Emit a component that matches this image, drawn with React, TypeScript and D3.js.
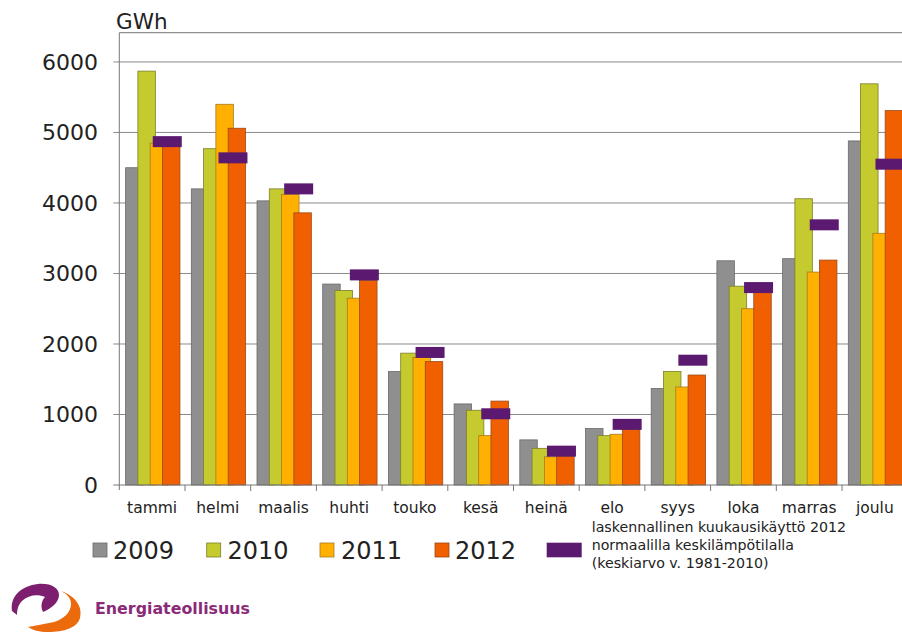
import React from "react";
import * as d3 from "d3";

// Monthly electricity consumption (GWh)
const months = ["tammi", "helmi", "maalis", "huhti", "touko", "kesä", "heinä", "elo", "syys", "loka", "marras", "joulu"];
const years = ["2009", "2010", "2011", "2012"];
const v2009 = [4500, 4200, 4030, 2850, 1610, 1150, 640, 800, 1370, 3180, 3210, 4880];
const v2010 = [5870, 4770, 4200, 2760, 1870, 1060, 520, 700, 1610, 2820, 4060, 5690];
const v2011 = [4850, 5400, 4120, 2650, 1810, 700, 400, 720, 1390, 2500, 3020, 3570];
const v2012 = [4820, 5060, 3860, 2900, 1750, 1190, 410, 790, 1560, 2740, 3190, 5310];
// Computed 2012 monthly use at normal average temperature (1981-2010)
const normal2012 = [4870, 4640, 4200, 2980, 1880, 1010, 480, 860, 1770, 2800, 3690, 4550];
const yTicks = [0, 1000, 2000, 3000, 4000, 5000, 6000];
const normalLegend = ["laskennallinen kuukausikäyttö 2012", "normaalilla keskilämpötilalla", "(keskiarvo v. 1981-2010)"];

const seriesValues = [v2009, v2010, v2011, v2012];
const colors = ["#8f8f8f", "#c5cb2e", "#ffb000", "#f06000"];
const strokes = ["#6a6a6a", "#7d7f2a", "#a77a20", "#9a4a1a"];
const purple = "#5b1a70";
const font = "DejaVu Sans, Verdana, sans-serif";

export default function App() {
  const W = 902;
  const H = 632;
  const left = 119.3;
  const bottom = 485;

  const x = d3.scaleBand<string>().domain(months).range([left, left + 12 * 65.7]).padding(0);
  const bw = x.bandwidth();
  const y = d3.scaleLinear().domain([0, 6415]).range([bottom, 32.7]);

  const barW = bw * 0.266;
  const barOff = (i: number) => bw * 0.096 + i * bw * 0.187;

  const legendItems = [
    { x: 93, tx: 113 },
    { x: 206.7, tx: 227.5 },
    { x: 320, tx: 341 },
    { x: 435, tx: 455 },
  ];

  return (
    <div style={{ position: "absolute", left: 0, top: 0 }}>
      <svg width={W} height={H} style={{ display: "block", background: "#fff" }}>
        {/* grid */}
        {yTicks.slice(1).map((t) => (
          <line key={t} x1={left - 6} x2={W} y1={y(t)} y2={y(t)} stroke="#8a8a8a" strokeWidth={1} />
        ))}
        <line x1={left} x2={W} y1={y.range()[1]} y2={y.range()[1]} stroke="#777" strokeWidth={1} />

        {/* bars */}
        {months.map((m, mi) =>
          seriesValues.map((vals, si) => (
            <rect
              key={m + si}
              x={(x(m) as number) + barOff(si)}
              y={y(vals[mi])}
              width={barW}
              height={bottom - y(vals[mi])}
              fill={colors[si]}
              stroke={strokes[si]}
              strokeWidth={0.8}
            />
          ))
        )}

        {/* normal-temperature markers */}
        {months.map((m, mi) => (
          <rect
            key={"n" + m}
            x={(x(m) as number) + bw * 0.73 - 14.5}
            y={y(normal2012[mi]) - 5.5}
            width={29}
            height={11}
            fill={purple}
          />
        ))}

        {/* axes */}
        <line x1={left} x2={left} y1={y.range()[1]} y2={bottom + 5} stroke="#777" strokeWidth={1} />
        <line x1={left - 6} x2={W} y1={bottom} y2={bottom} stroke="#777" strokeWidth={1} />
        {months.map((m) => (
          <line key={"t" + m} x1={(x(m) as number) + bw} x2={(x(m) as number) + bw} y1={bottom} y2={bottom + 6} stroke="#777" />
        ))}
        {yTicks.map((t) => (
          <text key={"yl" + t} x={98} y={y(t)} dy="0.36em" textAnchor="end" fontFamily={font} fontSize={22} fill="#222">
            {t}
          </text>
        ))}
        <text x={116} y={29} fontFamily={font} fontSize={21.5} fill="#222">
          GWh
        </text>
        {months.map((m) => (
          <text key={"xl" + m} x={(x(m) as number) + bw / 2} y={513} textAnchor="middle" fontFamily={font} fontSize={15.5} fill="#222">
            {m}
          </text>
        ))}

        {/* legend */}
        {years.map((yr, i) => (
          <g key={yr}>
            <rect x={legendItems[i].x} y={543} width={14} height={14} fill={colors[i]} stroke={strokes[i]} strokeWidth={0.8} />
            <text x={legendItems[i].tx} y={559} fontFamily={font} fontSize={24} fill="#222">
              {yr}
            </text>
          </g>
        ))}
        <rect x={546.7} y={542.7} width={35} height={14.6} fill={purple} />
        {normalLegend.map((line, i) => (
          <text key={i} x={591.7} y={532.3 + i * 18} fontFamily={font} fontSize={14.2} fill="#222">
            {line}
          </text>
        ))}

        {/* logo */}
        <path
          d="M12,611 C10,596 21,586 38,584 C51,583 59,588 59,595 C59,602 52,608 43,612 C40,606 42,600 45,597 C38,594 28,595 22,601 C18,605 17,610 17,615 Z"
          fill="#7d1f6e"
        />
        <path
          d="M61,591 C75,596 83,606 80,618 C77,628 64,632 48,632 C40,632 32,630 28,627 C37,625 46,624 54,622 C64,619 71,612 71,604 C71,598 67,594 61,591 Z"
          fill="#ea6a0c"
        />
        <text x={95} y={614} fontFamily={font} fontWeight="bold" fontSize={15.5} fill="#8a2a78" textLength={155} lengthAdjust="spacingAndGlyphs">
          Energiateollisuus
        </text>
      </svg>
    </div>
  );
}
